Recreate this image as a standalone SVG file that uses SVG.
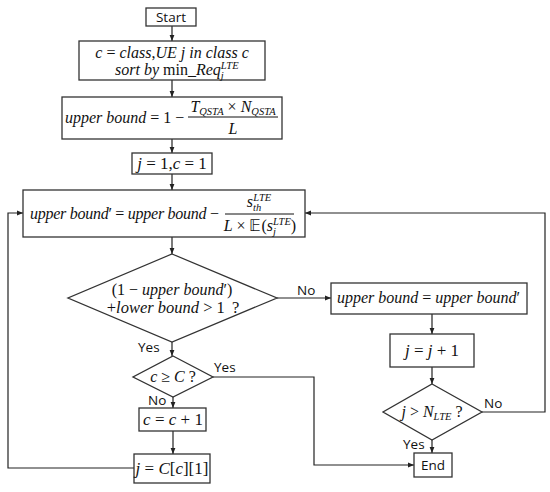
<svg xmlns="http://www.w3.org/2000/svg" width="550" height="492" viewBox="0 0 550 492">
<style>
.box{fill:#fff;stroke:#333;stroke-width:1.3}
.ln{fill:none;stroke:#222;stroke-width:1.2}
.m{font-family:"Liberation Serif",serif;font-style:italic;font-size:16px;fill:#111}
.u{font-style:normal}
.s{font-family:"Open Sans","Liberation Sans",sans-serif;font-size:13.5px;fill:#111}
.sm{font-size:10.5px}
</style>
<defs>
<marker id="ah" viewBox="0 0 10 10" refX="10" refY="5" markerWidth="6" markerHeight="6" orient="auto" markerUnits="userSpaceOnUse">
<path d="M0,1 L10,5 L0,9 z" fill="#222"/>
</marker>
</defs>
<rect width="550" height="492" fill="#fff"/>

<g id="connectors" class="ln" marker-end="url(#ah)">
<line x1="172" y1="26" x2="172" y2="41"/>
<line x1="172" y1="80" x2="172" y2="97"/>
<line x1="172" y1="139" x2="172" y2="153"/>
<line x1="172" y1="174" x2="172" y2="190"/>
<line x1="172" y1="237" x2="172" y2="254"/>
<line x1="172" y1="342" x2="172" y2="356"/>
<line x1="277" y1="298" x2="331" y2="298"/>
<line x1="432" y1="314" x2="432" y2="334"/>
<line x1="432" y1="367" x2="432" y2="384"/>
<line x1="432" y1="440" x2="432" y2="453"/>
<polyline points="482,412 545,412 545,213 305,213"/>
<polyline points="213,377 314,377 314,465 414,465"/>
<line x1="173" y1="397" x2="173" y2="408"/>
<line x1="173" y1="431" x2="173" y2="454"/>
<polyline points="134,468 8,468 8,213 23,213"/>
</g>

<g id="start">
<rect class="box" x="146" y="8" width="50" height="18"/>
<text class="s" x="171" y="22" text-anchor="middle">Start</text>
</g>

<g id="init">
<rect class="box" x="79" y="41" width="186" height="39"/>
<text class="m" x="172" y="58" text-anchor="middle">c <tspan class="u">=</tspan> class<tspan class="u">,</tspan>UE j in class c</text>
<text class="m" x="115" y="75">sort by <tspan class="u">min</tspan>_Req<tspan class="sm" dy="4">j</tspan><tspan class="sm" dy="-10" dx="-3">LTE</tspan></text>
</g>

<g id="upperbound">
<rect class="box" x="62" y="97" width="220" height="42"/>
<text class="m" x="65" y="123">upper bound <tspan class="u">= 1 −</tspan></text>
<text class="m" x="233" y="112" text-anchor="middle">T<tspan class="sm" dy="3">QSTA</tspan><tspan class="u" dy="-3"> × </tspan>N<tspan class="sm" dy="3">QSTA</tspan></text>
<line x1="188" y1="117" x2="278" y2="117" stroke="#111" stroke-width="1"/>
<text class="m" x="233" y="134" text-anchor="middle">L</text>
</g>

<g id="setj">
<rect class="box" x="132" y="153" width="80" height="21"/>
<text class="m" x="172" y="169" text-anchor="middle" style="font-size:17px">j <tspan class="u">= 1,</tspan>c <tspan class="u">= 1</tspan></text>
</g>

<g id="update">
<rect class="box" x="23" y="190" width="282" height="47"/>
<text class="m" x="30" y="219" textLength="189" lengthAdjust="spacing">upper bound<tspan class="u">′ =</tspan> upper bound <tspan class="u">−</tspan></text>
<text class="m" x="259" y="207" text-anchor="middle">s<tspan class="sm" dy="4">th</tspan><tspan class="sm" dy="-10" dx="-8">LTE</tspan></text>
<line x1="225" y1="214" x2="294" y2="214" stroke="#111" stroke-width="1"/>
<text class="m" x="260" y="231" text-anchor="middle">L <tspan class="u">× 𝔼(</tspan>s<tspan class="sm" dy="4">j</tspan><tspan class="sm" dy="-10" dx="-3">LTE</tspan><tspan class="u" dy="6">)</tspan></text>
</g>

<g id="cond1">
<polygon class="box" points="172,254 277,298 172,342 68,298"/>
<text class="m" x="172" y="295" text-anchor="middle"><tspan class="u">(1 −</tspan> upper bound<tspan class="u">′)</tspan></text>
<text class="m" x="173" y="313" text-anchor="middle" style="font-size:16.5px"><tspan class="u">+</tspan>lower bound <tspan class="u">&gt; 1</tspan><tspan class="u" dx="7">?</tspan></text>
</g>

<g id="assign">
<rect class="box" x="331" y="283" width="196" height="31"/>
<text class="m" x="337" y="303" textLength="183" lengthAdjust="spacing">upper bound <tspan class="u">=</tspan> upper bound<tspan class="u">′</tspan></text>
</g>

<g id="incj">
<rect class="box" x="390" y="334" width="84" height="33"/>
<text class="m" x="432" y="356" text-anchor="middle" style="font-size:17px">j <tspan class="u">=</tspan> j <tspan class="u">+ 1</tspan></text>
</g>

<g id="cond3">
<polygon class="box" points="432,384 482,412 432,440 383,412"/>
<text class="m" x="432" y="417" text-anchor="middle">j <tspan class="u">&gt;</tspan> N<tspan class="sm" dy="3">LTE</tspan><tspan class="u" dy="-3"> ?</tspan></text>
</g>

<g id="end">
<rect class="box" x="414" y="453" width="38" height="24"/>
<text class="s" x="433" y="470" text-anchor="middle">End</text>
</g>

<g id="cond2">
<polygon class="box" points="173,356 213,377 173,397 133,377"/>
<text class="m" x="173" y="382" text-anchor="middle">c <tspan class="u">≥</tspan> C <tspan class="u">?</tspan></text>
</g>

<g id="incc">
<rect class="box" x="139" y="408" width="67" height="23"/>
<text class="m" x="173" y="425" text-anchor="middle" style="font-size:17px">c <tspan class="u">=</tspan> c <tspan class="u">+ 1</tspan></text>
</g>

<g id="setjc">
<rect class="box" x="134" y="454" width="76" height="29"/>
<text class="m" x="172" y="474" text-anchor="middle" style="font-size:17px">j <tspan class="u">=</tspan> C<tspan class="u">[</tspan>c<tspan class="u">][1]</tspan></text>
</g>

<g id="labels" class="s">
<text x="297" y="295">No</text>
<text x="138" y="352">Yes</text>
<text x="214" y="372">Yes</text>
<text x="148" y="405">No</text>
<text x="484" y="408">No</text>
<text x="403" y="449">Yes</text>
</g>
</svg>
